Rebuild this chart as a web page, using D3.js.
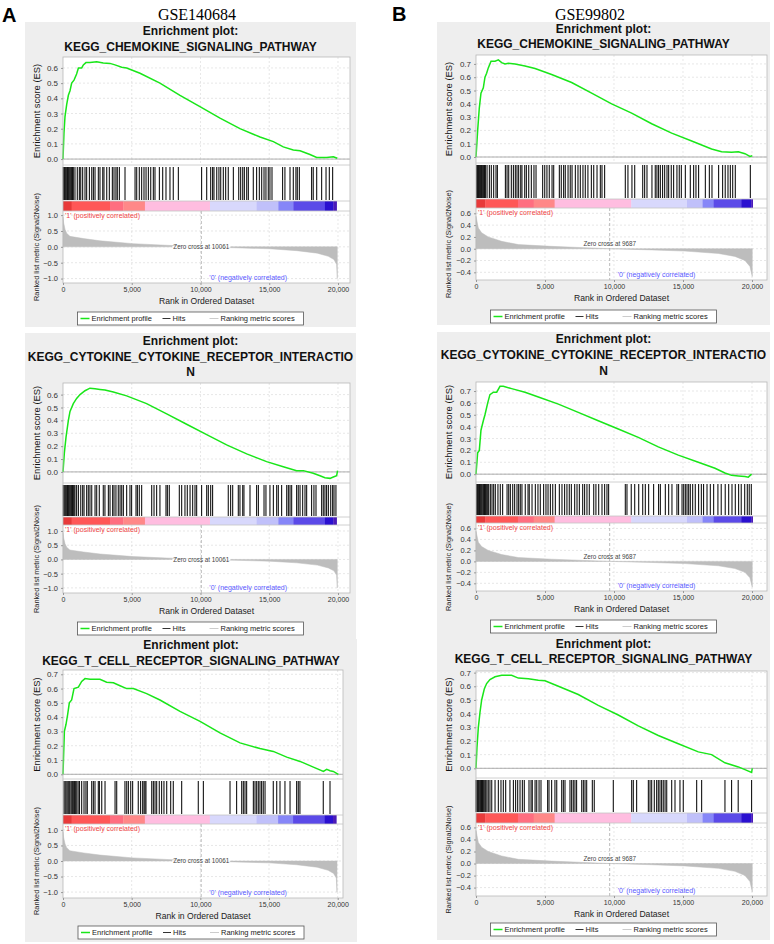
<!DOCTYPE html>
<html>
<head>
<meta charset="utf-8">
<script src="https://cdn.jsdelivr.net/npm/d3@7"></script>
<style>
body { margin: 0; background: #fff; }
text { font-family: Arial, "Liberation Sans", sans-serif; }
</style>
</head>
<body>
<svg id="fig" width="774" height="944"></svg>
<script>
// ---- data ----
var datasets = ["GSE140684", "GSE99802"]
var panelLetters = ["A", "B"]
var pathwayTitles = [
    ["Enrichment plot:", "KEGG_CHEMOKINE_SIGNALING_PATHWAY"],
    ["Enrichment plot:", "KEGG_CYTOKINE_CYTOKINE_RECEPTOR_INTERACTIO", "N"],
    ["Enrichment plot:", "KEGG_T_CELL_RECEPTOR_SIGNALING_PATHWAY"]
]
var zeroCross = [10061, 9687]
var xTicks = [0, 5000, 10000, 15000, 20000]
var esTicks6 = [0, 0.1, 0.2, 0.3, 0.4, 0.5, 0.6]
var esTicks7 = [0, 0.1, 0.2, 0.3, 0.4, 0.5, 0.6, 0.7]
var metricTicksA = [-1, -0.5, 0, 0.5, 1]
var metricTicksB = [-0.4, -0.2, 0, 0.2, 0.4, 0.6]

// ranked list metric (rank, Signal2Noise)
var metricA = [[0, 0.95], [50, 0.75], [150, 0.55], [270, 0.43], [500, 0.33], [1500, 0.26], [2700, 0.19],
    [5100, 0.1], [7500, 0.05], [10061, 0], [12500, -0.03], [15000, -0.06], [17000, -0.12], [18500, -0.2],
    [19300, -0.3], [19700, -0.4], [19900, -0.55], [19950, -1.0]]
var metricB = [[0, 0.55], [170, 0.35], [410, 0.27], [890, 0.2], [1860, 0.125], [3070, 0.07], [5480, 0.04],
    [7900, 0.017], [9687, 0], [12730, -0.02], [15140, -0.04], [17560, -0.08], [18760, -0.13], [19490, -0.2],
    [19850, -0.3], [20020, -0.47]]

// colour bar segment edges (rank)
var barA = [0, 630, 3420, 4390, 5960, 10690, 14080, 15660, 16750, 19050, 19660, 19900]
var barB = [0, 680, 3040, 4180, 5700, 11250, 15290, 16420, 17220, 19220, 19950, 20050]
var barColors = ["#e83a3a", "#ff5757", "#ff6e80", "#ff8888", "#ffbde0", "#d8d8fc", "#c0c0fa", "#8686f8", "#5b4ae8", "#2a10d0", "#4a1ab8"]

// running enrichment score (rank, ES)
var esA1 = [[0, 0], [70, 0.17], [145, 0.28], [270, 0.36], [390, 0.42], [510, 0.45], [630, 0.5], [800, 0.52], [990, 0.56],
    [1120, 0.6], [1360, 0.6], [1480, 0.62], [1670, 0.635], [1960, 0.635], [2450, 0.64], [2930, 0.633], [3420, 0.63],
    [3780, 0.62], [4270, 0.605], [4630, 0.6], [5600, 0.565], [7050, 0.5], [8510, 0.42], [9960, 0.345], [11420, 0.27],
    [12870, 0.2], [14330, 0.145], [15300, 0.115], [16020, 0.08], [16750, 0.06], [17240, 0.055], [17960, 0.03],
    [18450, 0.01], [19170, 0.01], [19660, 0.015], [19950, 0.005]]
var esA2 = [[0, 0], [100, 0.15], [220, 0.27], [390, 0.4], [510, 0.47], [750, 0.53], [990, 0.57], [1240, 0.6], [1600, 0.63],
    [1960, 0.65], [2330, 0.645], [2690, 0.64], [3050, 0.635], [3660, 0.62], [4630, 0.59], [6080, 0.53], [7540, 0.45],
    [8990, 0.37], [10450, 0.29], [11900, 0.21], [13360, 0.14], [14810, 0.08], [16020, 0.04], [16990, 0.01], [17480, 0.01],
    [18200, -0.01], [18690, -0.03], [19050, -0.045], [19420, -0.05], [19660, -0.04], [19900, -0.03], [19970, 0.01]]
var esA3 = [[0, 0], [100, 0.3], [220, 0.35], [340, 0.42], [460, 0.5], [630, 0.52], [800, 0.6], [1120, 0.61], [1360, 0.65],
    [1600, 0.67], [1970, 0.665], [2690, 0.665], [3180, 0.645], [3670, 0.64], [4150, 0.62], [4640, 0.6], [5120, 0.6],
    [6090, 0.565], [7060, 0.52], [8520, 0.44], [9980, 0.37], [11430, 0.29], [12890, 0.22], [14340, 0.18], [15310, 0.16],
    [16290, 0.12], [17260, 0.09], [18230, 0.05], [18960, 0.02], [19200, 0.035], [19440, 0.025], [19680, 0.02], [20050, 0.0]]
var esB1 = [[0, 0], [120, 0.2], [240, 0.37], [360, 0.48], [530, 0.52], [650, 0.6], [770, 0.63], [890, 0.67], [1090, 0.72],
    [1380, 0.72], [1620, 0.73], [1860, 0.71], [2100, 0.7], [2340, 0.705], [2830, 0.7], [3550, 0.685], [4280, 0.665],
    [5480, 0.62], [6930, 0.56], [8380, 0.48], [9830, 0.4], [11280, 0.33], [12730, 0.25], [14180, 0.18], [15630, 0.12],
    [17070, 0.06], [17800, 0.04], [18520, 0.035], [19010, 0.04], [19490, 0.025], [19850, 0.005], [20020, 0.01]]
var esB2 = [[0, 0], [120, 0.18], [240, 0.2], [360, 0.37], [530, 0.45], [650, 0.5], [850, 0.6], [1010, 0.67], [1260, 0.69],
    [1500, 0.69], [1740, 0.74], [1980, 0.74], [2580, 0.72], [3550, 0.69], [4520, 0.65], [5970, 0.59], [7410, 0.52],
    [8860, 0.45], [10310, 0.38], [11760, 0.31], [13210, 0.23], [14660, 0.16], [16110, 0.1], [17320, 0.05], [18040, 0.01],
    [18520, -0.01], [19010, -0.015], [19490, -0.02], [19730, -0.025], [19970, 0]]
var esB3 = [[0, 0], [70, 0.15], [170, 0.3], [290, 0.41], [410, 0.5], [600, 0.58], [770, 0.62], [1010, 0.65], [1380, 0.67],
    [1860, 0.68], [2580, 0.68], [3070, 0.66], [3790, 0.655], [4520, 0.645], [5000, 0.64], [5970, 0.6], [7410, 0.54],
    [8860, 0.46], [10310, 0.39], [11760, 0.31], [13210, 0.24], [14660, 0.18], [16110, 0.12], [17070, 0.1], [18040, 0.04],
    [19010, 0.01], [19490, -0.01], [19970, -0.03], [20020, 0.0]]

// gene set hit positions (rank)
var hitsA1 = [20, 60, 100, 150, 200, 270, 330, 390, 450, 510, 570, 630, 690, 750, 870, 1040, 1190, 1290, 1430, 1600, 1720,
    1920, 2090, 2210, 2330, 2570, 2690, 2890, 2980, 3180, 3370, 3590, 3710, 3850, 3950, 4100, 4510, 5240, 5360, 5550,
    5720, 5890, 6040, 6210, 6380, 6570, 6690, 7010, 7250, 7490, 7780, 8020, 8390, 10080, 10450, 10740, 10880, 10980,
    11180, 11340, 11470, 11660, 11830, 12020, 12390, 12780, 12920, 13070, 13190, 13360, 13480, 13840, 14080, 14280,
    14450, 14620, 14760, 14930, 15050, 15200, 15970, 16140, 16510, 16750, 16940, 17040, 17190, 18080, 18200, 18450,
    18810, 19130, 19370, 19610]
var hitsA2 = [20, 80, 140, 200, 270, 330, 390, 450, 510, 570, 630, 690, 750, 810, 870, 990, 1120, 1290, 1430, 1530, 1720,
    1840, 1960, 2090, 2330, 2450, 2640, 2930, 3050, 3300, 3420, 3610, 3710, 3850, 4020, 4150, 4270, 4390, 4630, 4870,
    4990, 5310, 5410, 5550, 5720, 6450, 6620, 6810, 7050, 7490, 7590, 7730, 8460, 8630, 8870, 9040, 9240, 9430, 9600,
    9720, 10080, 10450, 10570, 10740, 10880, 12020, 12190, 12340, 12750, 12870, 13070, 13160, 13600, 14080, 14210,
    14620, 14760, 15050, 15300, 15540, 15660, 15900, 16270, 16390, 16510, 16630, 16990, 17110, 17240, 17430, 17600,
    17720, 18080, 18250, 18400, 18810, 18930, 19050, 19170, 19300, 19470, 19610, 19710, 19850]
var hitsA3 = [70, 150, 220, 300, 380, 450, 510, 600, 680, 750, 830, 900, 1000, 1100, 1200, 1360, 1530, 1670, 1770, 2090,
    2210, 2330, 2570, 2650, 2820, 3060, 3790, 3910, 4510, 4640, 4760, 4930, 5070, 5480, 5650, 5800, 5900, 5970, 6040,
    6460, 6580, 6700, 6820, 7010, 7180, 7350, 7550, 7840, 8030, 8640, 9850, 10220, 12160, 12640, 13010, 13130, 13250,
    13370, 13860, 13980, 14100, 14220, 14340, 14460, 14580, 14710, 15310, 15560, 15800, 16160, 16530, 17010, 17130,
    17250, 18950, 19440]
var hitsB1 = [50, 100, 145, 190, 240, 290, 340, 390, 435, 490, 555, 620, 680, 800, 970, 1110, 1280, 1450, 1550, 2130, 2250,
    2370, 2560, 2710, 2850, 2970, 3090, 3240, 3330, 3530, 3650, 3820, 4010, 4200, 4350, 4830, 4980, 5140, 5310, 5510,
    5630, 6040, 6180, 6350, 6470, 6670, 6830, 6960, 7200, 7390, 7560, 7750, 7920, 8110, 8360, 8530, 8770, 9010, 9130,
    9320, 10820, 11010, 11300, 11500, 12080, 12220, 12390, 12750, 12990, 13110, 13230, 13360, 13520, 13670, 13840,
    13960, 14150, 14320, 14560, 14730, 14880, 15170, 15530, 15770, 15940, 16130, 16620, 16910, 17100, 17580, 17870,
    18060, 18260, 18430, 18600, 18790, 19880]
var hitsB2 = [50, 100, 150, 195, 250, 315, 380, 435, 500, 555, 620, 680, 740, 800, 860, 920, 1040, 1160, 1280, 1400, 1590,
    1760, 1930, 2250, 2370, 2490, 2660, 2800, 2970, 3090, 3210, 3330, 3570, 3770, 3860, 4060, 4300, 4490, 4660, 4900,
    5070, 5220, 5390, 5560, 5750, 6040, 6230, 6420, 6590, 6760, 6910, 7150, 7320, 7490, 7730, 7870, 8040, 8210, 8530,
    8690, 8890, 9130, 9320, 9490, 9610, 10820, 10940, 11250, 11500, 11790, 12080, 12270, 12510, 12870, 13230, 13360,
    13720, 13960, 14200, 14560, 14680, 14930, 15050, 15170, 15290, 15410, 15530, 15700, 15890, 16130, 16330, 16490,
    16740, 16980, 17220, 17530, 17770, 18060, 18310, 18550, 18790, 19030, 19220, 19470, 19660, 19800, 19950]
var hitsB3 = [0, 60, 120, 170, 230, 290, 340, 400, 470, 530, 600, 700, 790, 890, 1010, 1140, 1380, 1620, 1810, 1980, 2150,
    2460, 2710, 2870, 3020, 3190, 3360, 3500, 3840, 3990, 4080, 4280, 4400, 4570, 4710, 5190, 5290, 5480, 5720, 5850,
    6210, 6330, 6450, 6810, 6930, 7050, 7170, 7290, 7660, 7780, 7900, 8020, 8430, 8570, 9950, 11280, 11400, 11640,
    12490, 12610, 12730, 12920, 13090, 13210, 13330, 13450, 13570, 13700, 13820, 14180, 14420, 14780, 15020, 15990,
    16350, 18040, 18520, 19000, 19970]

// ---- layout of the six panels (pixels) ----
var panels = [
    {set: 0, path: 0, es: esA1, hits: hitsA1, esTicks: esTicks6, box: [25, 22, 331, 305], left: 63, right: 350, xMax: 20873,
     titleY: [31, 47], esTop: 57, esBot: 165, hitsBot: 201, barBot: 211, metBot: 283, esDomain: [-0.039, 0.672], metDomain: [-1.14, 1.13], legendY: 312},
    {set: 0, path: 1, es: esA2, hits: hitsA2, esTicks: esTicks6, box: [25, 333, 331, 306], left: 63, right: 350, xMax: 20873,
     titleY: [341, 357, 372], esTop: 383, esBot: 483, hitsBot: 517, barBot: 525, metBot: 593, esDomain: [-0.086, 0.69], metDomain: [-1.18, 1.21], legendY: 622},
    {set: 0, path: 2, es: esA3, hits: hitsA3, esTicks: esTicks7, box: [25, 639, 332, 303], left: 63, right: 343, xMax: 20386,
     titleY: [645, 661], esTop: 670, esBot: 779, hitsBot: 815, barBot: 824, metBot: 898, esDomain: [-0.033, 0.73], metDomain: [-1.19, 1.19], legendY: 926},
    {set: 1, path: 0, es: esB1, hits: hitsB1, esTicks: esTicks7, box: [437, 22, 333, 303], left: 476, right: 767, xMax: 21087,
     titleY: [29, 44], esTop: 55, esBot: 163, hitsBot: 199, barBot: 208, metBot: 280, esDomain: [-0.045, 0.767], metDomain: [-0.53, 0.69], legendY: 310},
    {set: 1, path: 1, es: esB2, hits: hitsB2, esTicks: esTicks7, box: [437, 332, 333, 306], left: 476, right: 767, xMax: 21087,
     titleY: [339, 355, 371], esTop: 382, esBot: 482, hitsBot: 516, barBot: 523, metBot: 591, esDomain: [-0.066, 0.776], metDomain: [-0.54, 0.70], legendY: 620},
    {set: 1, path: 2, es: esB3, hits: hitsB3, esTicks: esTicks7, box: [437, 638, 333, 302], left: 476, right: 767, xMax: 21087,
     titleY: [644, 659], esTop: 671, esBot: 778, hitsBot: 813, barBot: 823, metBot: 896, esDomain: [-0.071, 0.712], metDomain: [-0.54, 0.674], legendY: 923}
]

var svg = d3.select("#fig")
var gridColor = "#dcdcdc"
var green = "#19e619"

// column headers
svg.append("text").attr("x", 2).attr("y", 22).attr("font-size", 20).attr("font-weight", "bold").text(panelLetters[0])
svg.append("text").attr("x", 392).attr("y", 21).attr("font-size", 20).attr("font-weight", "bold").text(panelLetters[1])
svg.append("text").attr("x", 197).attr("y", 20).attr("text-anchor", "middle")
    .style("font-family", "'Liberation Serif', 'Times New Roman', serif").attr("font-size", 16).text(datasets[0])
svg.append("text").attr("x", 590).attr("y", 20).attr("text-anchor", "middle")
    .style("font-family", "'Liberation Serif', 'Times New Roman', serif").attr("font-size", 16).text(datasets[1])

function hLines(g, ticks, y, p) {
    g.selectAll(null).data(ticks).join("line")
        .attr("x1", p.left).attr("x2", p.right)
        .attr("y1", function(d) { return y(d) }).attr("y2", function(d) { return y(d) })
        .attr("stroke", gridColor).attr("stroke-width", 0.7).attr("stroke-dasharray", "2,2")
}

function vLines(g, x, top, bot) {
    g.selectAll(null).data(xTicks.slice(1)).join("line")
        .attr("x1", function(d) { return x(d) }).attr("x2", function(d) { return x(d) })
        .attr("y1", top).attr("y2", bot)
        .attr("stroke", gridColor).attr("stroke-width", 0.7).attr("stroke-dasharray", "2,2")
}

function styleAxis(a, size) {
    a.select(".domain").remove()
    a.selectAll(".tick line").attr("stroke", "#999")
    a.selectAll(".tick text").attr("fill", "#333").attr("font-size", size).style("font-family", "Arial, 'Liberation Sans', sans-serif")
}

function drawPanel(p) {
    var g = svg.append("g")
    var isA = p.set == 0
    var metric = isA ? metricA : metricB
    var bar = isA ? barA : barB
    var zc = zeroCross[p.set]
    var cx = p.box[0] + p.box[2] / 2

    g.append("rect").attr("x", p.box[0]).attr("y", p.box[1]).attr("width", p.box[2]).attr("height", p.box[3]).attr("fill", "#eeeeee")

    pathwayTitles[p.path].forEach(function(t, i) {
        g.append("text").attr("x", cx).attr("y", p.titleY[i] + 4.3).attr("text-anchor", "middle")
            .attr("font-size", 12).attr("font-weight", "bold").attr("fill", "#111").text(t)
    })

    var x = d3.scaleLinear().domain([0, p.xMax]).range([p.left, p.right])
    var yEs = d3.scaleLinear().domain(p.esDomain).range([p.esBot, p.esTop])
    var yMet = d3.scaleLinear().domain(p.metDomain).range([p.metBot, p.barBot])
    var metTicks = isA ? metricTicksA : metricTicksB

    g.append("rect").attr("x", p.left).attr("y", p.esTop).attr("width", p.right - p.left).attr("height", p.metBot - p.esTop).attr("fill", "#fff")

    // grid
    hLines(g, p.esTicks, yEs, p)
    vLines(g, x, p.esTop, p.esBot)
    hLines(g, metTicks, yMet, p)
    vLines(g, x, p.barBot, p.metBot)

    // ES zero line and running score
    g.append("line").attr("x1", p.left).attr("x2", p.right).attr("y1", yEs(0)).attr("y2", yEs(0)).attr("stroke", "#999").attr("stroke-width", 0.8)
    g.append("path").datum(p.es)
        .attr("d", d3.line().x(function(d) { return x(d[0]) }).y(function(d) { return yEs(d[1]) }))
        .attr("fill", "none").attr("stroke", green).attr("stroke-width", 1.5)

    // hits
    g.selectAll(null).data(p.hits).join("line")
        .attr("x1", function(d) { return x(d) }).attr("x2", function(d) { return x(d) })
        .attr("y1", p.esBot + 2).attr("y2", p.hitsBot - 1)
        .attr("stroke", "#141414").attr("stroke-width", 1.1)

    // colour bar
    g.selectAll(null).data(barColors).join("rect")
        .attr("x", function(d, i) { return x(bar[i]) })
        .attr("width", function(d, i) { return x(bar[i + 1]) - x(bar[i]) + 0.3 })
        .attr("y", p.hitsBot).attr("height", p.barBot - p.hitsBot)
        .attr("fill", function(d) { return d })

    // ranked list metric
    g.append("path").datum(metric)
        .attr("d", d3.area().x(function(d) { return x(d[0]) }).y0(yMet(0)).y1(function(d) { return yMet(d[1]) }))
        .attr("fill", "#bdbdbd").attr("stroke", "#bdbdbd").attr("stroke-width", 0.5)
    g.append("line").attr("x1", x(zc)).attr("x2", x(zc)).attr("y1", p.barBot).attr("y2", p.metBot)
        .attr("stroke", "#aaa").attr("stroke-width", 0.8).attr("stroke-dasharray", "3,2")

    var zt = g.append("text").attr("x", x(zc)).attr("text-anchor", "middle").attr("font-size", 6.3).attr("fill", "#444")
        .text("Zero cross at " + zc)
    if (isA) {
        var w = zt.node().getComputedTextLength()
        g.insert("rect", function() { return zt.node() }).attr("x", x(zc) - w / 2 - 1).attr("y", yMet(0) - 0.8)
            .attr("width", w + 2).attr("height", 1.6).attr("fill", "#fff")
        zt.attr("y", yMet(0) + 2.2)
    } else {
        zt.attr("y", yMet(0) - 2.5)
    }
    g.append("text").attr("x", p.left + 2).attr("y", p.barBot + 7).attr("font-size", 7).attr("fill", "#f04545")
        .text("'1' (positively correlated)")
    g.append("text").attr("x", x(zc) + 8).attr("y", p.metBot - 3).attr("font-size", 7).attr("fill", "#5a5aff")
        .text("'0' (negatively correlated)")

    // frames
    g.append("rect").attr("x", p.left).attr("y", p.esTop).attr("width", p.right - p.left).attr("height", p.metBot - p.esTop)
        .attr("fill", "none").attr("stroke", "#b8b8b8").attr("stroke-width", 0.8)
    ;[p.esBot, p.hitsBot, p.barBot].forEach(function(yy) {
        g.append("line").attr("x1", p.left).attr("x2", p.right).attr("y1", yy).attr("y2", yy).attr("stroke", "#c4c4c4").attr("stroke-width", 0.8)
    })

    // axes
    var ay = g.append("g").attr("transform", "translate(" + p.left + ",0)")
        .call(d3.axisLeft(yEs).tickValues(p.esTicks).tickFormat(d3.format(".1f")).tickSize(2).tickPadding(3))
    styleAxis(ay, 8)
    var am = g.append("g").attr("transform", "translate(" + p.left + ",0)")
        .call(d3.axisLeft(yMet).tickValues(metTicks).tickFormat(d3.format(".1f")).tickSize(2).tickPadding(3))
    styleAxis(am, 7.5)
    var ax = g.append("g").attr("transform", "translate(0," + p.metBot + ")")
        .call(d3.axisBottom(x).tickValues(xTicks).tickFormat(d3.format(",")).tickSize(2).tickPadding(2))
    styleAxis(ax, 7)

    g.append("text").attr("transform", "translate(" + (p.box[0] + 15) + "," + ((p.esTop + p.esBot) / 2) + ") rotate(-90)")
        .attr("text-anchor", "middle").attr("font-size", 9.4).attr("fill", "#111").text("Enrichment score (ES)")
    g.append("text").attr("transform", "translate(" + (p.box[0] + 14) + "," + ((p.barBot + p.metBot) / 2) + ") rotate(-90)")
        .attr("text-anchor", "middle").attr("font-size", 7.3).attr("fill", "#222").text("Ranked list metric (Signal2Noise)")
    g.append("text").attr("x", (p.left + p.right) / 2).attr("y", p.metBot + 21).attr("text-anchor", "middle")
        .attr("font-size", 8.6).attr("fill", "#222").text("Rank in Ordered Dataset")

    // legend
    var lx = cx - 113, ly = p.legendY, lc = ly + 6.5
    g.append("rect").attr("x", lx).attr("y", ly).attr("width", 226).attr("height", 13)
        .attr("fill", "#fff").attr("stroke", "#555").attr("stroke-width", 0.8)
    var items = [["Enrichment profile", green, 3, 12, 14, 1.5], ["Hits", "#333", 85, 93, 95, 1], ["Ranking metric scores", "#ccc", 132, 141, 143, 1]]
    items.forEach(function(it) {
        g.append("line").attr("x1", lx + it[2]).attr("x2", lx + it[3]).attr("y1", lc).attr("y2", lc)
            .attr("stroke", it[1]).attr("stroke-width", it[5])
        g.append("text").attr("x", lx + it[4]).attr("y", lc + 2.7).attr("font-size", 7.5).attr("fill", "#222").text(it[0])
    })
}

panels.forEach(drawPanel)
</script>
</body>
</html>
